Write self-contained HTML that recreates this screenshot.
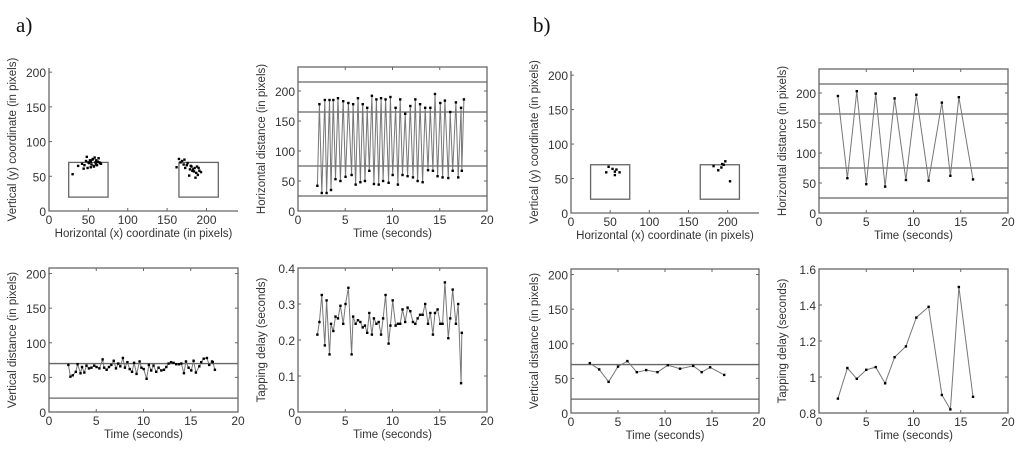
<!DOCTYPE html>
<html><head><meta charset="utf-8"><style>
body{margin:0;background:#fff;}
svg{display:block;font-family:"Liberation Sans",sans-serif;}
</style></head><body>
<svg id="fig" width="1024" height="455" viewBox="0 0 1024 455">
<text x="16" y="32" font-family="Liberation Serif,serif" font-size="21" fill="#111">a)</text>
<text x="533" y="32" font-family="Liberation Serif,serif" font-size="21" fill="#111">b)</text>
</svg>
<script>
// ---- data panel a ----
const aScatterLeftX=[30,37,42,45,47,48,50,51,52,53,54,55,56,57,58,59,60,61,62,63,64,65,66,49,53,57,44,60];
const aScatterLeftY=[53,65,68,66,72,78,70,69,73,71,67,74,75,65,77,70,73,66,71,76,70,69,68,62,63,64,61,67];
const aScatterRightX=[162,165,167,169,171,173,175,176,178,180,181,182,183,184,185,186,187,188,190,191,193,172,179,189];
const aScatterRightY=[63,75,70,72,67,62,66,69,51,65,64,58,60,57,62,48,55,64,62,58,56,74,60,52];
const aDelays=[0.215,0.25,0.325,0.185,0.31,0.16,0.245,0.225,0.265,0.26,0.295,0.245,0.30,0.345,0.16,0.265,0.245,0.255,0.25,0.235,0.24,0.22,0.275,0.215,0.26,0.245,0.25,0.215,0.26,0.325,0.19,0.24,0.31,0.24,0.245,0.245,0.285,0.25,0.29,0.28,0.25,0.245,0.26,0.27,0.27,0.30,0.245,0.275,0.215,0.275,0.285,0.245,0.245,0.36,0.205,0.26,0.34,0.245,0.30,0.08,0.22,0.2];
const aStartTime=2.05;
const aHoriz=[42,178,30,185,30,185,35,185,53,188,50,183,57,180,60,178,44,188,48,178,50,172,67,192,45,186,44,188,50,186,47,190,60,172,44,186,60,162,58,175,56,186,50,178,48,172,68,172,67,195,58,180,56,184,55,165,67,181,56,172,67,186];
const aVert=[68,51,53,58,69,56,65,57,67,63,64,67,65,63,76,64,61,65,68,74,63,70,66,78,64,72,62,58,71,55,73,64,62,48,68,60,67,58,64,60,61,65,70,72,71,69,69,70,56,73,64,60,74,57,66,72,77,78,68,73,72,61];
const aDelayAxis=[0,0.1,0.2,0.3,0.4];
// ---- data panel b ----
const bScatterLeftX=[45,48,53,56,56,58,62];
const bScatterLeftY=[59,67,64,60,55,63,59];
const bScatterRightX=[182,188,192,193,195,197,203];
const bScatterRightY=[68,62,66,71,70,75,46];
const bTimes=[2.0,3.0,4.0,5.0,6.0,7.0,8.0,9.2,10.3,11.6,13.0,13.9,14.8,16.3];
const bHoriz=[195,58,203,48,199,44,191,55,197,54,184,62,193,56];
const bVert=[72,63,45,67,75,59,62,59,69,64,68,59,66,55];
const bDelays=[0.88,1.05,0.99,1.04,1.055,0.965,1.11,1.17,1.33,1.39,0.90,0.82,1.50,0.89];
const bDelayAxis=[0.8,1,1.2,1.4,1.6];
const posTicks=[0,50,100,150,200];
const timeTicks=[0,5,10,15,20];

const NS='http://www.w3.org/2000/svg';
const svg=document.getElementById('fig');
function mk(tag,attrs,parent,text){const e=document.createElementNS(NS,tag);for(const k in attrs)e.setAttribute(k,attrs[k]);if(text!==undefined)e.textContent=text;(parent||svg).appendChild(e);return e;}
const LC='#666',TC='#333';
function panel(name,x0,x1,y0,y1,xmin,xmax,ymin,ymax,xt,yt,xlabel,ylabel,box,fmt){
  const g=mk('g',{},svg);
  
  
  const sx=v=>x0+(v-xmin)/(xmax-xmin)*(x1-x0);
  const sy=v=>y1-(v-ymin)/(ymax-ymin)*(y1-y0);
  if(box){const r=mk('rect',{x:x0,y:y0,width:x1-x0,height:y1-y0,fill:'none',stroke:LC,'stroke-width':1.3},g);
    }
  else{const a=mk('path',{d:`M${x0},${y0}V${y1}H${x1}`,fill:'none',stroke:LC,'stroke-width':1.3},g);
    }
  xt.forEach(v=>{const X=sx(v);mk('line',{x1:X,x2:X,y1:y1,y2:y1-3,stroke:LC},g);
    if(box)mk('line',{x1:X,x2:X,y1:y0,y2:y0+3,stroke:LC},g);
    const t=mk('text',{x:X,y:y1+13,'text-anchor':'middle','font-size':12,fill:TC},g,String(v));
    });
  yt.forEach(v=>{const Y=sy(v);mk('line',{x1:x0,x2:x0+3,y1:Y,y2:Y,stroke:LC},g);
    if(box)mk('line',{x1:x1,x2:x1-3,y1:Y,y2:Y,stroke:LC},g);
    const t=mk('text',{x:x0-3,y:Y+5,'text-anchor':'end','font-size':12,fill:TC},g,fmt?fmt(v):String(v));
    });
  const xl=mk('text',{x:(x0+x1)/2,y:y1+26,'text-anchor':'middle','font-size':11.5,fill:TC},g,xlabel);
  
  const cy=(y0+y1)/2;
  const yl=mk('text',{x:x0-33,y:cy,'text-anchor':'middle','font-size':11.5,fill:TC,transform:`rotate(-90 ${x0-33} ${cy})`},g,ylabel);
  
  return {g,sx,sy};
}
function hline(p,v,x0,x1){const l=mk('line',{x1:x0,x2:x1,y1:p.sy(v),y2:p.sy(v),stroke:LC,'stroke-width':1.3},p.g);
  }
function rectT(p,a,b,c,d){const r=mk('rect',{x:p.sx(a),y:p.sy(d),width:p.sx(b)-p.sx(a),height:p.sy(c)-p.sy(d),fill:'none',stroke:LC,'stroke-width':1.3},p.g);
  }
function dots(p,xs,ys){xs.forEach((x,i)=>{const c=mk('rect',{x:p.sx(x)-1.2,y:p.sy(ys[i])-1.2,width:2.4,height:2.4,fill:'#000'},p.g);
  });}
function series(p,xs,ys){const d=xs.map((x,i)=>(i?'L':'M')+p.sx(x).toFixed(1)+','+p.sy(ys[i]).toFixed(1)).join('');
  const l=mk('path',{d,fill:'none',stroke:'#777','stroke-width':1},p.g);
  
  dots(p,xs,ys);}
// time array for a from cumulative delays
const aTimes=[];let tc=aStartTime;
for(let i=0;i<aHoriz.length;i++){aTimes.push(tc);tc+=aDelays[i];}

// Panel a1
let p=panel('a-scatter',49,238,68,211,0,240,0,206,posTicks,posTicks,'Horizontal (x) coordinate (in pixels)','Vertical (y) coordinate (in pixels)',false);
rectT(p,25,75,20,70);rectT(p,165,215,20,70);
dots(p,aScatterLeftX,aScatterLeftY);dots(p,aScatterRightX,aScatterRightY);
// a2
p=panel('a-horizontal-distance',298,487,67,211,0,20,0,240,timeTicks,posTicks,'Time (seconds)','Horizontal distance (in pixels)',true);
[25,75,165,215].forEach(v=>hline(p,v,298,487));
series(p,aTimes,aHoriz);
// a3
p=panel('a-vertical-distance',49,238,268,412,0,20,0,208,timeTicks,posTicks,'Time (seconds)','Vertical distance (in pixels)',true);
[20,70].forEach(v=>hline(p,v,49,238));
series(p,aTimes,aVert);
// a4
p=panel('a-tapping-delay',298,487,268,412,0,20,0,0.4,timeTicks,aDelayAxis,'Time (seconds)','Tapping delay (seconds)',true,v=>v===0?'0':String(v));
series(p,aTimes.slice(0,61),aDelays.slice(0,61));
// b1
p=panel('b-scatter',571,759,71,213,0,240,0,206,posTicks,posTicks,'Horizontal (x) coordinate (in pixels)','Vertical (y) coordinate (in pixels)',false);
rectT(p,25,75,20,70);rectT(p,165,215,20,70);
dots(p,bScatterLeftX,bScatterLeftY);dots(p,bScatterRightX,bScatterRightY);
// b2
p=panel('b-horizontal-distance',819,1008,69,213,0,20,0,240,timeTicks,posTicks,'Time (seconds)','Horizontal distance (in pixels)',true);
[25,75,165,215].forEach(v=>hline(p,v,819,1008));
series(p,bTimes,bHoriz);
// b3
p=panel('b-vertical-distance',571,759,269,413,0,20,0,208,timeTicks,posTicks,'Time (seconds)','Vertical distance (in pixels)',true);
[20,70].forEach(v=>hline(p,v,571,759));
series(p,bTimes,bVert);
// b4
p=panel('b-tapping-delay',819,1008,269,413,0,20,0.8,1.6,timeTicks,bDelayAxis,'Time (seconds)','Tapping delay (seconds)',true);
series(p,bTimes,bDelays);
</script>
</body></html>
